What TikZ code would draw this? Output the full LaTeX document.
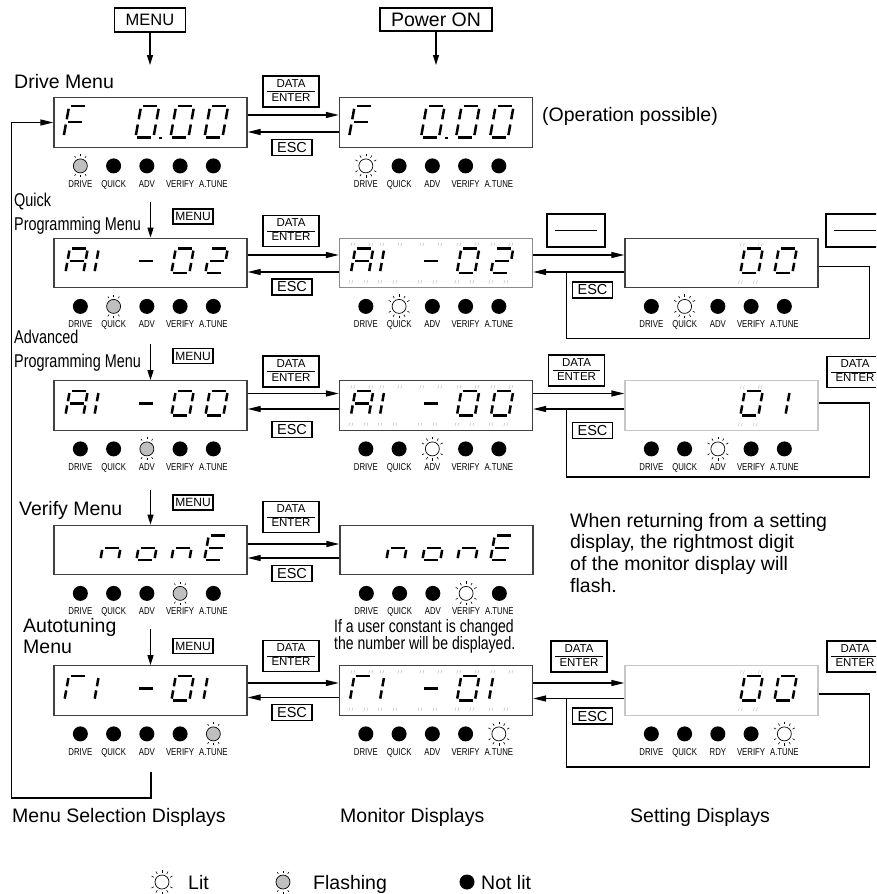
\documentclass[tikz,border=0pt]{standalone}
\usepackage{fontspec}
\setmainfont{Liberation Sans}
\newfontfamily\narrowfont[FakeStretch=0.78]{Liberation Sans}
\newfontfamily\ledfont[FakeStretch=0.78]{Liberation Sans}
\usetikzlibrary{arrows.meta,calc}

\newcommand{\pxsize}[1]{\fontsize{#1}{#1}\selectfont}
\setlength{\arrayrulewidth}{0.9pt}
\newcommand{\dataenter}{\begin{tabular}{@{\hspace{4.5pt}}c@{\hspace{4.5pt}}}DATA\\\hline ENTER\end{tabular}}

\tikzset{
  panel/.style={draw=black!75, line width=1.3pt, minimum width=193pt, minimum height=49.5pt, inner sep=0pt},
  keybox/.style={draw, line width=1.1pt, inner sep=0pt},
  dekey/.style={keybox, minimum width=56pt, minimum height=31pt, font=\fontsize{11.5}{13.5}\selectfont},
  esckey/.style={keybox, minimum width=40pt, minimum height=16pt, font=\pxsize{14.5}},
  smallkey/.style={keybox, minimum width=40pt, minimum height=15pt, font=\pxsize{12}},
  blankkey/.style={keybox, minimum width=58pt, minimum height=33pt},
  lbltext/.style={anchor=base west, inner sep=0pt, font=\pxsize{19.5}},
  narrowcap/.style={anchor=base west, inner sep=0pt, font=\narrowfont\pxsize{18.5}},
  ledlabel/.style={anchor=base, inner sep=0pt, font=\ledfont\pxsize{10}},
  harrow/.style={line width=1.3pt, -{Triangle[length=13pt,width=6pt]}},
  varrow/.style={line width=1.3pt, -{Triangle[length=10pt,width=6pt]}},
  wire/.style={line width=1.3pt},
  seg/.style={line width=2.5pt},
  blinkmark/.style={draw=black!22, line width=0.6pt},
  % seven segments
  sg/a/.code={\draw[seg] (2pt,24.5pt) -- (16pt,24.5pt);},
  sg/b/.code={\draw[seg] (18pt,22.5pt) -- (18pt,14.3pt);},
  sg/c/.code={\draw[seg] (18pt,10.2pt) -- (18pt,2pt);},
  sg/d/.code={\draw[seg] (2pt,0pt) -- (16pt,0pt);},
  sg/e/.code={\draw[seg] (0pt,10.2pt) -- (0pt,2pt);},
  sg/f/.code={\draw[seg] (0pt,22.5pt) -- (0pt,14.3pt);},
  sg/g/.code={\draw[seg] (2pt,12.25pt) -- (16pt,12.25pt);},
  % LEDs
  ledoff/.pic={\fill (0,0) circle (7.5pt);},
  ledblink/.pic={\draw[fill=black!25, line width=0.7pt] (0,0) circle (7pt);
    \foreach \a in {60,90,120,240,270,300} \draw[line width=0.6pt] (\a:9.5pt) -- (\a:11.5pt);},
  ledon/.pic={\draw[fill=white, line width=0.7pt] (0,0) circle (7pt);
    \foreach \a in {30,60,90,120,150,210,240,270,300,330} \draw[line width=0.6pt] (\a:9.5pt) -- (\a:12pt);},
}

\newcommand{\segdigit}[4][]{%
  \begin{scope}[shift={($(#2.north west)+(#3,35.5)$)}, xslant=0.18, #1]
    \foreach \s in {#4} {\edef\segkey{\noexpand\tikzset{sg/\s}}\segkey}
  \end{scope}}

\newcommand{\blinkmarks}[2]{%
  \foreach \dx/\dy in {0/8.5,18/8.5,-2/46,13/46} {%
    \draw[blinkmark] ($(#1.north west)+({#2+\dx},\dy)$) -- ++(1,-3.5)
      ($(#1.north west)+({#2+\dx+3},\dy)$) -- ++(1,-3.5);
  }}

\newcommand{\ledrow}[2]{%
  \foreach \st/\lb [count=\i] in {#2} {%
    \pic at ($(#1.south west)+({27+33.25*(\i-1)},18)$) {led\st};
    \node[ledlabel] (#1-\i) at ($(#1.south west)+({27+33.25*(\i-1)},39.5)$) {\lb};
  }}

\begin{document}
\begin{tikzpicture}[x=1pt, y=-1pt]
    \useasboundingbox (0,0) rectangle (876,894);
    \clip (0,0) rectangle (876,894);

    \node[keybox, minimum width=71pt, minimum height=24pt, font=\pxsize{16.5}] (menukey) at (150,20) {MENU};
    \node[keybox, minimum width=112pt, minimum height=23pt, font=\pxsize{19.5}] (powerkey) at (436,19.5) {Power ON};
    \coordinate (menutip) at (150,65);
    \coordinate (powertip) at (436,65);
    \draw[varrow] (menukey) -- (menutip);
    \draw[varrow] (powerkey) -- (powertip);

    % displays
    \node[panel] (menu1) at (150.5,122.5) {};
    \node[panel] (mon1) at (436,122.5) {};
    \node[panel] (menu2) at (150.5,263) {};
    \node[panel, draw=black!45] (mon2) at (436,263) {};
    \node[panel] (set2) at (721.5,263) {};
    \node[panel] (menu3) at (150.5,405.5) {};
    \node[panel] (mon3) at (436,405.5) {};
    \node[panel, draw=black!22] (set3) at (721.5,405.5) {};
    \node[panel] (menu4) at (150.5,550) {};
    \node[panel] (mon4) at (436.5,550) {};
    \node[panel] (menu5) at (150.5,690.5) {};
    \node[panel] (mon5) at (436,690.5) {};
    \node[panel, draw=black!22] (set5) at (721.5,690.5) {};

    % readouts
    \foreach \b in {menu1,mon1} {
        \segdigit[yshift=-5pt, yscale=1.28]{\b}{11}{a,e,f,g}
        \segdigit[yshift=-5pt, yscale=1.28]{\b}{83}{a,b,c,d,e,f}
        \segdigit[yshift=-5pt, yscale=1.28]{\b}{118}{a,b,c,d,e,f}
        \segdigit[yshift=-5pt, yscale=1.28]{\b}{152}{a,b,c,d,e,f}
        \fill ($(\b.north west)+(106,41.5)$) rectangle ++(3,-2);
    }
    \foreach \b in {menu2,mon2} {
        \segdigit{\b}{12}{a,b,c,e,f,g}
        \segdigit{\b}{41}{e,f}
        \segdigit{\b}{81}{g}
        \segdigit{\b}{118}{a,b,c,d,e,f}
        \segdigit{\b}{152}{a,b,g,e,d}
    }
    \foreach \b in {menu3,mon3} {
        \segdigit{\b}{12}{a,b,c,e,f,g}
        \segdigit{\b}{41}{e,f}
        \segdigit{\b}{81}{g}
        \segdigit{\b}{118}{a,b,c,d,e,f}
        \segdigit{\b}{152}{a,b,c,d,e,f}
    }
    \foreach \b in {menu4,mon4} {
        \segdigit{\b}{47}{c,e,g}
        \segdigit{\b}{83}{c,d,e,g}
        \segdigit{\b}{118}{c,e,g}
        \segdigit{\b}{151}{a,d,e,f,g}
    }
    \foreach \b in {menu5,mon5} {
        \segdigit{\b}{11}{a,e,f}
        \segdigit{\b}{41}{e,f}
        \segdigit{\b}{81}{g}
        \segdigit{\b}{118}{a,b,c,d,e,f}
        \segdigit{\b}{150}{e,f}
    }
    \foreach \b in {set2,set5} {
        \segdigit{\b}{116}{a,b,c,d,e,f}
        \segdigit{\b}{150}{a,b,c,d,e,f}
    }
    \segdigit{set3}{116}{a,b,c,d,e,f}
    \segdigit{set3}{161}{e,f}

    % flashing digits
    \foreach \b in {mon2,mon3,mon5} {
        \foreach \c in {12,41,81,118,152} {\blinkmarks{\b}{\c}}
    }
    \foreach \b in {set2,set3,set5} {\blinkmarks{\b}{116}}

    % LED rows
    \ledrow{menu1}{blink/DRIVE,off/QUICK,off/ADV,off/VERIFY,off/A.TUNE}
    \ledrow{mon1}{on/DRIVE,off/QUICK,off/ADV,off/VERIFY,off/A.TUNE}
    \ledrow{menu2}{off/DRIVE,blink/QUICK,off/ADV,off/VERIFY,off/A.TUNE}
    \ledrow{mon2}{off/DRIVE,on/QUICK,off/ADV,off/VERIFY,off/A.TUNE}
    \ledrow{set2}{off/DRIVE,on/QUICK,off/ADV,off/VERIFY,off/A.TUNE}
    \ledrow{menu3}{off/DRIVE,off/QUICK,blink/ADV,off/VERIFY,off/A.TUNE}
    \ledrow{mon3}{off/DRIVE,off/QUICK,on/ADV,off/VERIFY,off/A.TUNE}
    \ledrow{set3}{off/DRIVE,off/QUICK,on/ADV,off/VERIFY,off/A.TUNE}
    \ledrow{menu4}{off/DRIVE,off/QUICK,off/ADV,blink/VERIFY,off/A.TUNE}
    \ledrow{mon4}{off/DRIVE,off/QUICK,off/ADV,on/VERIFY,off/A.TUNE}
    \ledrow{menu5}{off/DRIVE,off/QUICK,off/ADV,off/VERIFY,blink/A.TUNE}
    \ledrow{mon5}{off/DRIVE,off/QUICK,off/ADV,off/VERIFY,on/A.TUNE}
    \ledrow{set5}{off/DRIVE,off/QUICK,off/RDY,off/VERIFY,on/A.TUNE}

    % keys between menu and monitor
    \node[dekey] (de1) at (291,91.5) {\dataenter};
    \node[dekey] (de2) at (291,231) {\dataenter};
    \node[dekey] (de3) at (291,371.5) {\dataenter};
    \node[dekey] (de4) at (291,517) {\dataenter};
    \node[dekey] (de5) at (291,656) {\dataenter};
    \node[esckey] (esc1) at (292,147.5) {ESC};
    \node[esckey] (esc2) at (292,287) {ESC};
    \node[esckey] (esc3) at (292,429.5) {ESC};
    \node[esckey] (esc4) at (292,573.5) {ESC};
    \node[esckey] (esc5) at (292,712.5) {ESC};
    \node[smallkey] (mk2) at (193,216.5) {MENU};
    \node[smallkey] (mk3) at (193,356) {MENU};
    \node[smallkey] (mk4) at (193,502.5) {MENU};
    \node[smallkey] (mk5) at (193,646) {MENU};

    % keys between monitor and setting
    \node[blankkey] (blank2) at (576,230.5) {\rule{42pt}{1pt}};
    \node[blankkey] (blank2r) at (855,230.5) {\rule{42pt}{1pt}};
    \node[dekey] (de3s) at (576.5,370.5) {\dataenter};
    \node[dekey] (de3r) at (855,372) {\dataenter};
    \node[dekey] (de5s) at (579,656.5) {\dataenter};
    \node[dekey] (de5r) at (855,656.5) {\dataenter};
    \node[esckey] (esc2s) at (592.5,290) {ESC};
    \node[esckey] (esc3s) at (592.5,430.5) {ESC};
    \node[esckey] (esc5s) at (592.5,716) {ESC};

    % menu to monitor
    \draw[harrow] ($(menu1.east)+(0,-7.5)$) -- ($(mon1.west)+(0,-7.5)$);
    \draw[harrow] ($(mon1.west)+(0,9.5)$) -- ($(menu1.east)+(0,9.5)$);
    \draw[harrow] ($(menu2.east)+(0,-8)$) -- ($(mon2.west)+(0,-8)$);
    \draw[harrow] ($(mon2.west)+(0,9)$) -- ($(menu2.east)+(0,9)$);
    \draw[harrow] ($(menu3.east)+(0,-12)$) -- ($(mon3.west)+(0,-12)$);
    \draw[harrow] ($(mon3.west)+(0,3.5)$) -- ($(menu3.east)+(0,3.5)$);
    \draw[harrow] ($(menu4.east)+(0,-6)$) -- ($(mon4.west)+(0,-6)$);
    \draw[harrow] ($(mon4.west)+(0,8)$) -- ($(menu4.east)+(0,8)$);
    \draw[harrow] ($(menu5.east)+(0,-7.5)$) -- ($(mon5.west)+(0,-7.5)$);
    \draw[harrow] ($(mon5.west)+(0,7)$) -- ($(menu5.east)+(0,7)$);

    % monitor to setting, ESC loops
    \draw[harrow] ($(mon2.east)+(0,-8)$) -- ($(set2.west)+(0,-8)$);
    \draw[harrow] ($(set2.west)+(0,9)$) -- ($(mon2.east)+(0,9)$);
    \draw[wire] ($(set2.east)+(0,3.5)$) -- ++(51,0) -- ++(0,72) -| ($(mon2.east)+(33,9)$);
    \draw[harrow] ($(mon3.east)+(0,-12)$) -- ($(set3.west)+(0,-12)$);
    \draw[harrow] ($(set3.west)+(0,3.5)$) -- ($(mon3.east)+(0,3.5)$);
    \draw[wire] ($(set3.east)+(0,-2.5)$) -- ++(51,0) -- ++(0,74) -| ($(mon3.east)+(33,3.5)$);
    \draw[harrow] ($(mon5.east)+(0,-7.5)$) -- ($(set5.west)+(0,-7.5)$);
    \draw[harrow] ($(set5.west)+(0,8)$) -- ($(mon5.east)+(0,8)$);
    \draw[wire] ($(set5.east)+(0,3.5)$) -- ++(51,0) -- ++(0,73) -| ($(mon5.east)+(33,8)$);

    % MENU steps down the menus
    \coordinate (m2top) at (150.5,202);
    \coordinate (m3top) at (150.5,344);
    \coordinate (m4top) at (150.5,490);
    \coordinate (m5top) at (150.5,629);
    \draw[varrow] (m2top) -- (menu2.north);
    \draw[varrow] (m3top) -- (menu3.north);
    \draw[varrow] (m4top) -- (menu4.north);
    \draw[varrow] (m5top) -- (menu5.north);

    % back to the drive menu
    \coordinate (backstart) at (151,772);
    \draw[harrow] (backstart) -- ++(0,26) -| ($(menu1.west)+(-42,0)$) -- (menu1.west);

    % texts
    \node[lbltext] (drivelbl) at (14,88) {Drive Menu};
    \node[narrowcap] (quicklbl) at (14,206) {Quick};
    \node[narrowcap] (qproglbl) at (14,230) {Programming Menu};
    \node[narrowcap] (advlbl) at (14,343) {Advanced};
    \node[narrowcap] (aproglbl) at (14,367) {Programming Menu};
    \node[lbltext] (verlbl) at (19,515) {Verify Menu};
    \node[lbltext] (autolbl) at (23,632) {Autotuning};
    \node[lbltext] (automenu) at (23,653) {Menu};
    \node[lbltext] (oplbl) at (542,121) {(Operation possible)};
    \node[lbltext] (note1) at (570,527) {When returning from a setting};
    \node[lbltext] (note2) at (570,548.5) {display, the rightmost digit};
    \node[lbltext] (note3) at (570,570) {of the monitor display will};
    \node[lbltext] (note4) at (570,592) {flash.};
    \node[narrowcap, font=\narrowfont\pxsize{18}] (user1) at (334,632) {If a user constant is changed};
    \node[narrowcap, font=\narrowfont\pxsize{18}] (user2) at (334,649) {the number will be displayed.};
    \node[lbltext] (menusel) at (12,822) {Menu Selection Displays};
    \node[lbltext] (monsel) at (340,822) {Monitor Displays};
    \node[lbltext] (setsel) at (630,822) {Setting Displays};

    % legend
    \pic at (162,882) {ledon};
    \pic at (283,882) {ledblink};
    \pic at (467,882) {ledoff};
    \node[lbltext] (litlbl) at (188,889) {Lit};
    \node[lbltext] (flashlbl) at (313,889) {Flashing};
    \node[lbltext] (offlbl) at (481,889) {Not lit};
\end{tikzpicture}
\end{document}
